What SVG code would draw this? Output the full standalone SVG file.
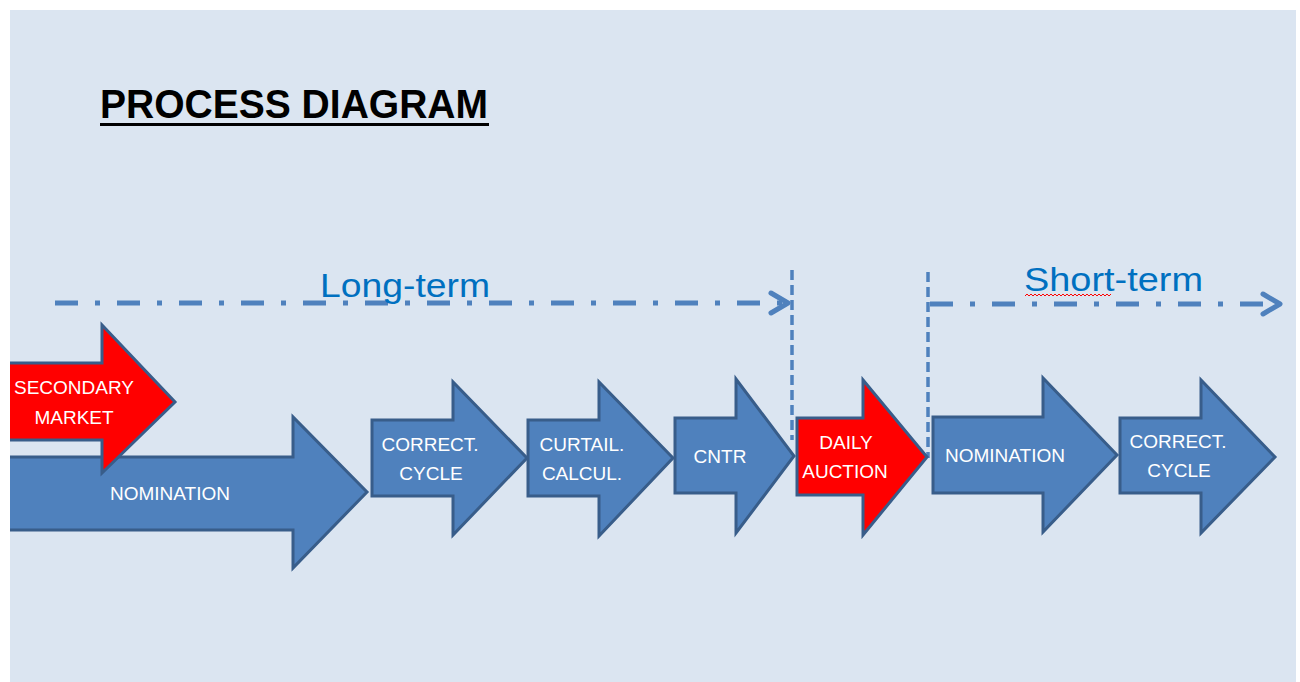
<svg xmlns="http://www.w3.org/2000/svg" width="1300" height="682" viewBox="0 0 1300 682">
<defs>
<style>
.bg{fill:#dbe5f1}
.blue{fill:#4f81bd;stroke:#385d8a;stroke-width:3;stroke-linejoin:miter}
.red{fill:#ff0000;stroke:#385d8a;stroke-width:3;stroke-linejoin:miter}
.lbl{font-family:"Liberation Sans",Arial,sans-serif;font-size:19px;fill:#ffffff;text-anchor:middle}
.term{font-family:"Liberation Sans",Arial,sans-serif;font-size:33px;fill:#0070c0}
.dashdot{fill:none;stroke:#4f81bd;stroke-width:5;stroke-dasharray:23 17 5 17}
.vdash{fill:none;stroke:#4f81bd;stroke-width:3.5;stroke-dasharray:10 5}
.head{fill:none;stroke:#4f81bd;stroke-width:5;stroke-linecap:round;stroke-linejoin:round}
</style>
<clipPath id="page"><rect x="10" y="10" width="1286" height="672"/></clipPath>
</defs>
<rect class="bg" x="10" y="10" width="1286" height="672"/>
<g id="title">
<text x="100" y="118" font-family="'Liberation Sans',Arial,sans-serif" font-weight="bold" font-size="40" fill="#000" textLength="388" lengthAdjust="spacingAndGlyphs">PROCESS DIAGRAM</text>
<rect x="100" y="123" width="389" height="3" fill="#000"/>
</g>
<g id="connectors">
<line class="dashdot" x1="55" y1="303" x2="782" y2="303"/>
<polyline class="head" points="771,293 788,303 771,313"/>
<line class="vdash" x1="792" y1="270" x2="792" y2="440"/>
<line class="vdash" x1="928" y1="272" x2="928" y2="458"/>
<line class="dashdot" x1="930" y1="304" x2="1274" y2="304"/>
<polyline class="head" points="1263,294 1280,304 1263,314"/>
</g>
<g id="label-long-term">
<text class="term" x="320" y="297" textLength="170" lengthAdjust="spacingAndGlyphs">Long-term</text>
</g>
<g id="label-short-term">
<text class="term" x="1024" y="291" textLength="179" lengthAdjust="spacingAndGlyphs">Short-term</text>
<path d="M1025,296 l2,-2 l2,2 l2,-2 l2,2 l2,-2 l2,2 l2,-2 l2,2 l2,-2 l2,2 l2,-2 l2,2 l2,-2 l2,2 l2,-2 l2,2 l2,-2 l2,2 l2,-2 l2,2 l2,-2 l2,2 l2,-2 l2,2 l2,-2 l2,2 l2,-2 l2,2 l2,-2 l2,2 l2,-2 l2,2 l2,-2 l2,2 l2,-2 l2,2 l2,-2 l2,2 l2,-2 l2,2 l2,-2 l2,2 l2,-2" fill="none" stroke="#ff0000" stroke-width="1"/>
</g>
<g id="nomination-1" clip-path="url(#page)">
<polygon class="blue" points="4,457 293,457 293,417 367,492 293,568 293,530 4,530"/>
<text class="lbl" x="170" y="500">NOMINATION</text>
</g>
<g id="secondary-market" clip-path="url(#page)">
<polygon class="red" points="4,363 102,363 102,325 175,402 102,473 102,440 4,440"/>
<text class="lbl" x="74" y="394">SECONDARY</text>
<text class="lbl" x="74" y="424">MARKET</text>
</g>
<g id="correct-cycle-1">
<polygon class="blue" points="372,420 453,420 453,382 527,458 453,535 453,496 372,496"/>
<text class="lbl" x="430" y="451">CORRECT.</text>
<text class="lbl" x="431" y="480">CYCLE</text>
</g>
<g id="curtail-calcul">
<polygon class="blue" points="528,420 599,420 599,382 673,458 599,536 599,496 528,496"/>
<text class="lbl" x="582" y="451">CURTAIL.</text>
<text class="lbl" x="582" y="480">CALCUL.</text>
</g>
<g id="cntr">
<polygon class="blue" points="675,418 736,418 736,379 794,456 736,533 736,493 675,493"/>
<text class="lbl" x="720" y="463">CNTR</text>
</g>
<g id="daily-auction">
<polygon class="red" points="797,418 863,418 863,380 927,457 863,535 863,495 797,495"/>
<text class="lbl" x="846" y="449">DAILY</text>
<text class="lbl" x="845" y="478">AUCTION</text>
</g>
<g id="nomination-2">
<polygon class="blue" points="933,417 1043,417 1043,378 1117,455 1043,532 1043,493 933,493"/>
<text class="lbl" x="1005" y="462">NOMINATION</text>
</g>
<g id="correct-cycle-2">
<polygon class="blue" points="1120,418 1201,418 1201,380 1275,457 1201,533 1201,493 1120,493"/>
<text class="lbl" x="1178" y="448">CORRECT.</text>
<text class="lbl" x="1179" y="477">CYCLE</text>
</g>
</svg>
